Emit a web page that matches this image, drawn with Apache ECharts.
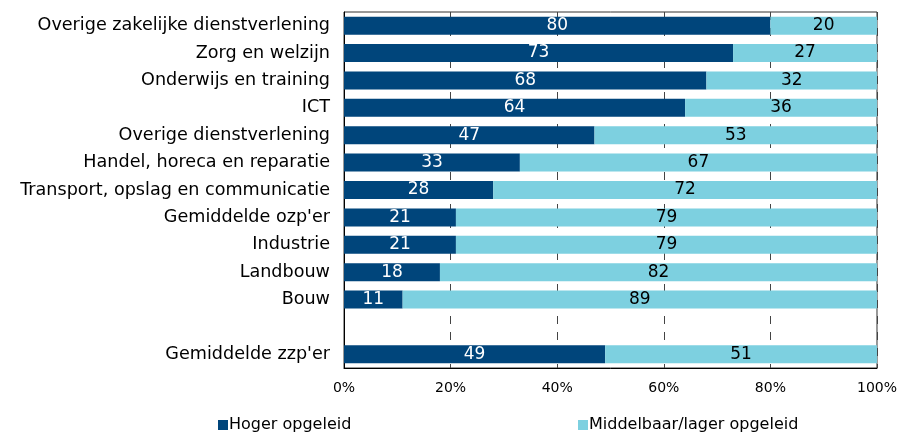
<!DOCTYPE html>
<html>
<head>
<meta charset="utf-8">
<script src="https://cdn.jsdelivr.net/npm/echarts@6/dist/echarts.min.js"></script>
<style>
html, body { margin: 0; padding: 0; background: #fff; }
#container { width: 900px; height: 432px; }
</style>
</head>
<body>
<div id="container"></div>
<script>
let categories = ['Overige zakelijke dienstverlening', 'Zorg en welzijn', 'Onderwijs en training', 'ICT',
    'Overige dienstverlening', 'Handel, horeca en reparatie', 'Transport, opslag en communicatie',
    "Gemiddelde ozp'er", 'Industrie', 'Landbouw', 'Bouw', '', "Gemiddelde zzp'er"];
let hoger = [80, 73, 68, 64, 47, 33, 28, 21, 21, 18, 11, null, 49];
let middelbaar = [20, 27, 32, 36, 53, 67, 72, 79, 79, 82, 89, null, 51];
let xTicks = [0, 20, 40, 60, 80, 100];

let dom = document.getElementById("container");
let myChart = echarts.init(dom);
let font = 'DejaVu Sans, Verdana, sans-serif';

let option = {
    textStyle: { fontFamily: font },
    legend: [
        {
            data: ['Hoger opgeleid'],
            left: 213, top: 412,
            itemWidth: 10, itemHeight: 10,
            icon: 'rect',
            textStyle: { fontSize: 16, color: '#000', fontFamily: font, padding: [0, 0, 0, -4] }
        },
        {
            data: ['Middelbaar/lager opgeleid'],
            left: 573, top: 412,
            itemWidth: 10, itemHeight: 10,
            icon: 'rect',
            textStyle: { fontSize: 16, color: '#000', fontFamily: font, padding: [0, 0, 0, -4] }
        }
    ],
    grid: {
        left: 344, right: 22, top: 12, bottom: 64,
        show: true, borderColor: '#333', borderWidth: 1
    },
    xAxis: {
        type: 'value',
        min: 0, max: 100, interval: 20,
        axisLine: { show: true, lineStyle: { color: '#000' } },
        axisTick: { show: false },
        axisLabel: {
            formatter: function (v) { return xTicks.indexOf(v) >= 0 ? v + '%' : ''; },
            color: '#000', fontSize: 14, margin: 13, fontFamily: font
        },
        splitLine: { show: true, lineStyle: { color: '#444', type: [8, 8], width: 1 } }
    },
    yAxis: {
        type: 'category',
        inverse: true,
        data: categories,
        axisLine: { show: true, lineStyle: { color: '#000' } },
        axisTick: { show: false },
        axisLabel: { color: '#000', fontSize: 17.6, margin: 14, fontFamily: font }
    },
    series: [
        {
            name: 'Hoger opgeleid',
            type: 'bar',
            stack: 'total',
            barWidth: 18,
            itemStyle: { color: '#00457b' },
            label: { show: true, position: 'inside', color: '#fff', fontSize: 17, fontFamily: font },
            data: hoger
        },
        {
            name: 'Middelbaar/lager opgeleid',
            type: 'bar',
            stack: 'total',
            barWidth: 18,
            itemStyle: { color: '#7dd0e0' },
            label: { show: true, position: 'inside', color: '#000', fontSize: 17, fontFamily: font },
            data: middelbaar
        }
    ]
};
if (option && typeof option === "object") {
    myChart.setOption(option, true);
}
</script>
</body>
</html>
